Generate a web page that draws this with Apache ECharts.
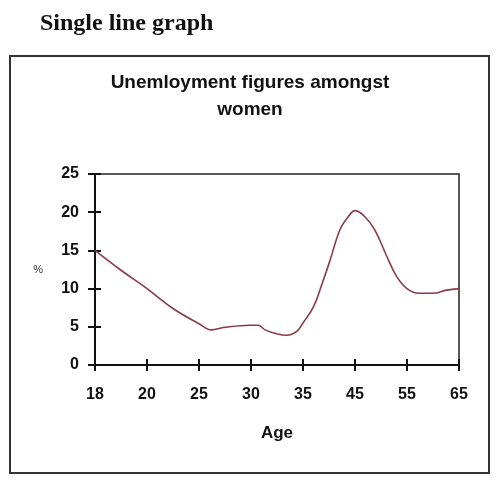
<!DOCTYPE html>
<html>
<head>
<meta charset="utf-8">
<script src="https://cdn.jsdelivr.net/npm/echarts@6/dist/echarts.min.js"></script>
<style>
  html, body { margin: 0; padding: 0; background: #fff; }
  #chart { width: 500px; height: 484px; }
</style>
</head>
<body>
<div id="chart"></div>
<script>
// age tick labels, evenly spaced along the axis
var ageLabels = ['18', '20', '25', '30', '35', '45', '55', '65'];
// position of each reading, measured in tick steps from "18"
var agePos = [0, 0.5, 1, 1.5, 2, 2.24, 2.47, 2.98, 3.14, 3.27, 3.49, 3.69, 3.88, 4,
              4.2, 4.36, 4.52, 4.71, 4.87, 5, 5.19, 5.38, 5.6, 5.8, 6, 6.22, 6.5, 6.76, 7];
// unemployment %
var unemployed = [15, 12.4, 10, 7.4, 5.4, 4.6, 4.9, 5.2, 5.2, 4.6, 4.1, 3.9, 4.4, 5.5,
                  7.6, 10.5, 13.7, 17.7, 19.4, 20.2, 19.4, 17.7, 14.4, 11.6, 10, 9.4, 9.4, 9.8, 10];

var seriesData = agePos.map(function (p, i) { return [p, unemployed[i]]; });

var dom = document.getElementById('chart');
var myChart = echarts.init(dom);
var sans = 'Liberation Sans, Arial, sans-serif';

var option = {
    backgroundColor: '#fff',
    animation: false,
    title: [
        {
            text: 'Single line graph',
            left: 35,
            top: 7,
            textStyle: { fontFamily: 'Liberation Serif, serif', fontWeight: 'bold', fontSize: 24, color: '#111' }
        },
        {
            text: 'Unemloyment figures amongst\nwomen',
            left: 245,
            top: 64,
            textAlign: 'center',
            textStyle: { fontFamily: sans, fontWeight: 'bold', fontSize: 19, lineHeight: 27, color: '#111' }
        }
    ],
    graphic: [
        {
            type: 'rect',
            shape: { x: 10, y: 56, width: 479, height: 417 },
            style: { fill: 'none', stroke: '#333', lineWidth: 2 }
        }
    ],
    grid: {
        left: 95,
        right: 41,
        top: 174,
        bottom: 119,
        show: true,
        borderColor: '#222',
        borderWidth: 1.5
    },
    xAxis: [
        {
            type: 'value',
            min: 0,
            max: 7,
            interval: 1,
            name: 'Age',
            nameLocation: 'middle',
            nameGap: 60,
            nameTextStyle: { fontFamily: sans, fontWeight: 'bold', fontSize: 17, color: '#111' },
            axisLine: { lineStyle: { color: '#111', width: 2 } },
            axisTick: { show: true, length: 6, lineStyle: { color: '#111', width: 2 } },
            splitLine: { show: false },
            axisLabel: {
                margin: 22,
                fontFamily: sans,
                fontWeight: 'bold',
                fontSize: 16,
                color: '#111',
                formatter: function (v) { return ageLabels[v]; }
            }
        },
        {
            type: 'value',
            position: 'bottom',
            min: 0,
            max: 7,
            interval: 1,
            axisLine: { show: false },
            axisTick: { show: true, inside: true, length: 6, lineStyle: { color: '#111', width: 2 } },
            axisLabel: { show: false },
            splitLine: { show: false }
        }
    ],
    yAxis: [
        {
            type: 'value',
            min: 0,
            max: 25,
            interval: 5,
            name: '%',
            nameLocation: 'middle',
            nameRotate: 0,
            nameGap: 52,
            nameTextStyle: { fontFamily: sans, fontSize: 11, color: '#333' },
            axisLine: { show: true, lineStyle: { color: '#111', width: 2 } },
            axisTick: { show: true, length: 7, lineStyle: { color: '#111', width: 2 } },
            splitLine: { show: false },
            axisLabel: { margin: 16, fontFamily: sans, fontWeight: 'bold', fontSize: 16, color: '#111' }
        },
        {
            type: 'value',
            position: 'left',
            min: 0,
            max: 25,
            interval: 5,
            axisLine: { show: false },
            axisTick: { show: true, inside: true, length: 6, lineStyle: { color: '#111', width: 2 } },
            axisLabel: { show: false },
            splitLine: { show: false }
        }
    ],
    series: [
        {
            type: 'line',
            xAxisIndex: 0,
            yAxisIndex: 0,
            data: seriesData,
            smooth: 0.4,
            symbol: 'none',
            lineStyle: { color: '#8b3a4a', width: 1.6 }
        }
    ]
};

myChart.setOption(option);
</script>
</body>
</html>
